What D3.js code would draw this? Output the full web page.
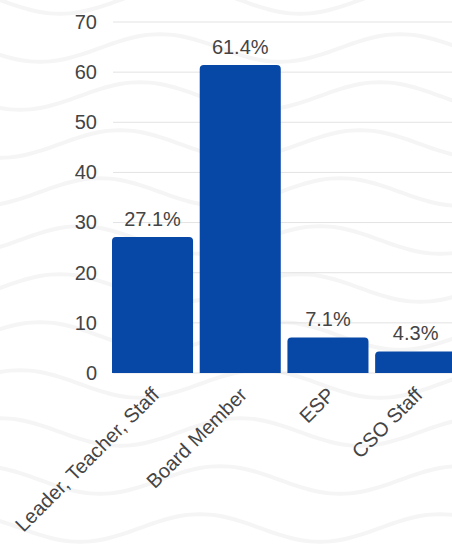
<!DOCTYPE html>
<html>
<head>
<meta charset="utf-8">
<script src="https://cdn.jsdelivr.net/npm/d3@7"></script>
<style>
  body { margin: 0; background: #fff; }
  svg { display: block; font-family: "Liberation Sans", Arial, sans-serif; }
</style>
</head>
<body>
<script>
  // chart data
  var categories = ["Leader, Teacher, Staff", "Board Member", "ESP", "CSO Staff"];
  var percents = [27.1, 61.4, 7.1, 4.3];
  var yTicks = [0, 10, 20, 30, 40, 50, 60, 70];

  var width = 452, height = 546;

  var svg = d3.select("body").append("svg")
      .attr("width", width)
      .attr("height", height);

  /* faint wavy background */
  var waves = svg.append("g").attr("class", "waves");
  var waveLine = d3.line().curve(d3.curveBasis);
  for (var row = -1; row < 13; row++) {
    var pts = [];
    for (var px = -20; px <= width + 20; px += 10) {
      pts.push([px, row * 48 + 14 * Math.sin((px + row * 20) / 240 * 2 * Math.PI)]);
    }
    waves.append("path")
      .attr("d", waveLine(pts))
      .attr("fill", "none")
      .attr("stroke", "#f5f5f5")
      .attr("stroke-width", 4);
  }

  var y = d3.scaleLinear().domain([0, 70]).range([373, 22]);
  var x = d3.scaleBand()
      .domain(categories)
      .range([108.5, 459.7])
      .paddingInner(0.076)
      .paddingOuter(0.04);

  // gridlines
  svg.append("g").selectAll("line")
    .data(yTicks)
    .enter().append("line")
      .attr("x1", 113).attr("x2", width)
      .attr("y1", function(d) { return y(d); })
      .attr("y2", function(d) { return y(d); })
      .attr("stroke", "#e3e3e3")
      .attr("stroke-width", 1);

  // y axis labels
  var yAxis = svg.append("g")
      .attr("transform", "translate(97,0)")
      .call(d3.axisLeft(y).tickValues(yTicks).tickSize(0).tickPadding(0));
  yAxis.select(".domain").remove();
  yAxis.selectAll("text")
      .style("font-size", "20px")
      .style("font-family", "Liberation Sans, Arial, sans-serif")
      .attr("fill", "#444");

  // bars with rounded tops
  function barPath(d, i) {
    var x0 = x(categories[i]), w = x.bandwidth();
    var top = y(d), base = y(0), r = Math.min(4, base - top);
    return "M" + x0 + "," + base +
      "V" + (top + r) +
      "Q" + x0 + "," + top + " " + (x0 + r) + "," + top +
      "H" + (x0 + w - r) +
      "Q" + (x0 + w) + "," + top + " " + (x0 + w) + "," + (top + r) +
      "V" + base + "Z";
  }
  svg.append("g").selectAll("path")
    .data(percents)
    .enter().append("path")
      .attr("d", barPath)
      .attr("fill", "#0747a6");

  // value labels
  svg.append("g").selectAll("text")
    .data(percents)
    .enter().append("text")
      .attr("x", function(d, i) { return x(categories[i]) + x.bandwidth() / 2; })
      .attr("y", function(d) { return y(d) - 11; })
      .attr("text-anchor", "middle")
      .style("font-size", "20px")
      .attr("fill", "#444")
      .text(function(d) { return d.toFixed(1) + "%"; });

  // x axis labels, rotated
  var xAxis = svg.append("g")
      .attr("transform", "translate(0,396)")
      .call(d3.axisBottom(x).tickSize(0).tickPadding(0));
  xAxis.select(".domain").remove();
  xAxis.selectAll("text")
      .attr("y", 0)
      .attr("dy", 0)
      .attr("transform", "translate(8,0)rotate(-45)")
      .style("text-anchor", "end")
      .style("font-size", "20px")
      .style("font-family", "Liberation Sans, Arial, sans-serif")
      .attr("fill", "#444");
</script>
</body>
</html>
